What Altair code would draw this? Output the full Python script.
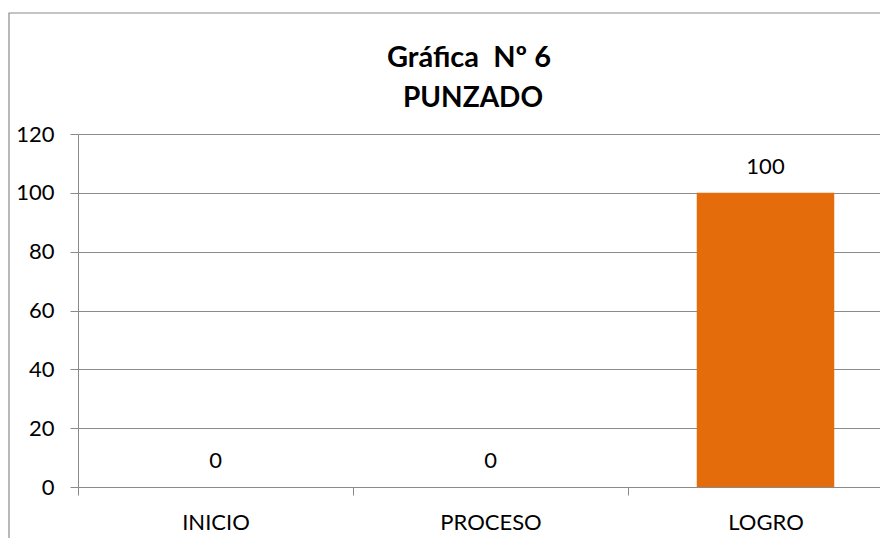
import altair as alt
import pandas as pd

categories = ["INICIO", "PROCESO", "LOGRO"]
values = [0, 0, 100]
y_ticks = [0, 20, 40, 60, 80, 100, 120]
title_lines = ["Gráfica  Nº 6", "PUNZADO"]

df = pd.DataFrame({"cat": categories, "val": values})

FONT = "Lato"
GRAY = "#8a8a8a"

x_enc = alt.X(
    "cat:N",
    sort=categories,
    title=None,
    scale=alt.Scale(range=[0, 825], paddingInner=0, paddingOuter=0),
    axis=alt.Axis(
        domain=False,
        grid=False,
        ticks=True,
        tickBand="extent",
        tickSize=8,
        tickColor=GRAY,
        labelAngle=0,
        labelFont=FONT,
        labelFontSize=22,
        labelColor="black",
        labelPadding=17,
    ),
)
y_enc = alt.Y(
    "val:Q",
    title=None,
    scale=alt.Scale(domain=[0, 120], nice=False),
    axis=alt.Axis(
        values=y_ticks,
        domain=True,
        domainColor=GRAY,
        grid=True,
        gridColor=GRAY,
        gridOpacity=1,
        tickSize=8,
        tickColor=GRAY,
        labelFont=FONT,
        labelFontSize=22,
        labelColor="black",
        labelPadding=16,
    ),
)

base = alt.Chart(df)
bars = base.mark_bar(color="#E46C0A", width=alt.RelativeBandSize(0.5)).encode(
    x=x_enc, y=y_enc
)
labels = base.mark_text(
    font=FONT, fontSize=22, color="black", baseline="alphabetic", dy=-19
).encode(x=alt.X("cat:N", sort=categories), y="val:Q", text="val:Q")

frame = alt.Chart(pd.DataFrame({"a": [0]})).mark_rect(
    fill=None, stroke=GRAY, strokeWidth=1.2
).encode(
    x=alt.value(-69), x2=alt.value(900), y=alt.value(-121), y2=alt.value(500)
)

# keep the double space visible in SVG
title_df = pd.DataFrame({"t": [title_lines[0].replace("  ", " \u00a0")]})
title_df2 = pd.DataFrame({"t": [title_lines[1]]})
title1 = alt.Chart(title_df).mark_text(
    font=FONT, fontSize=29, fontWeight="bold", color="black",
    align="center", baseline="alphabetic",
).encode(x=alt.value(391), y=alt.value(-67), text="t:N")
title2 = alt.Chart(title_df2).mark_text(
    font=FONT, fontSize=28, fontWeight="bold", color="black",
    align="center", baseline="alphabetic",
).encode(x=alt.value(395), y=alt.value(-27), text="t:N")

chart = (
    alt.layer(frame, bars, labels, title1, title2)
    .properties(
        width=802,
        height=353,
        padding={"left": 70, "top": 126, "right": 0, "bottom": 51},
        autosize=alt.AutoSizeParams(type="none"),
        background="white",
    )
    .configure_view(stroke=None)
)

chart.save("out.html", embed_options={"renderer": "svg", "actions": False})
